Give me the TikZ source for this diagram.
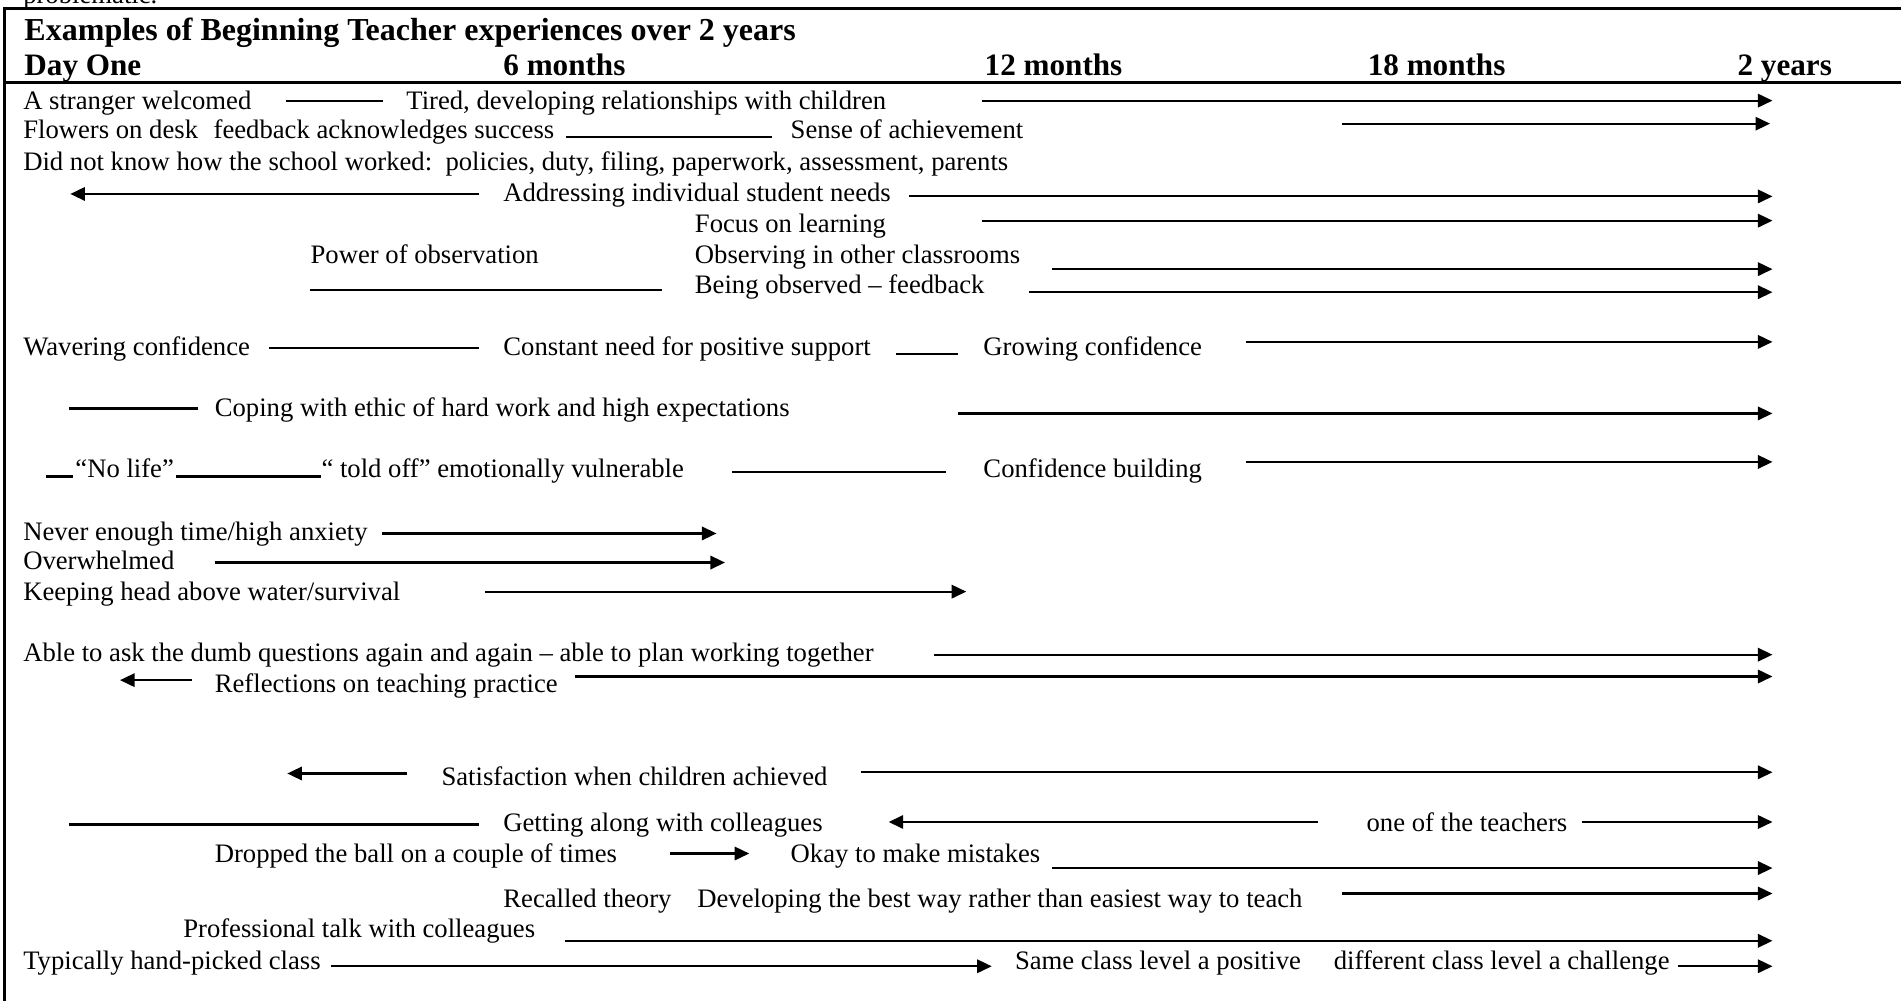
\documentclass[tikz,border=0pt]{standalone}
\usepackage{fontspec}
\setmainfont{Liberation Serif}
\usetikzlibrary{arrows.meta}
\tikzset{
  txt/.style={anchor=base west, inner sep=0pt, font=\fontsize{22}{26}\selectfont, yshift=-1.5pt},
  hdr/.style={anchor=base west, inner sep=0pt, font=\fontsize{25.7}{30}\selectfont\bfseries},
  ttl/.style={anchor=base west, inner sep=0pt, font=\fontsize{26.4}{30}\selectfont\bfseries},
  conn/.style={line width=1.8pt},
  arr/.style={conn, -{Triangle[length=12pt,width=11pt]}},
  frame/.style={line width=2.4pt}
}
\newcommand\hseg[5]{\coordinate (#1s) at (#3,#5); \coordinate (#1e) at (#4,#5); \draw[#2] (#1s) -- (#1e);}
\begin{document}
\begin{tikzpicture}[x=1pt,y=-1pt]
\useasboundingbox (0,0) rectangle (1568,826);
\fill[white] (0,0) rectangle (1568,826);
% clipped fragment of preceding text
\node[txt] (frag) at (19,1) {problematic.};
% frame
\coordinate (ftl) at (4,7); \coordinate (ftr) at (1568,7);
\coordinate (fhl) at (4,68); \coordinate (fhr) at (1568,68);
\coordinate (fbl) at (4,826);
\draw[frame] (ftr) -- (ftl) -- (fbl);
\draw[frame] (fhl) -- (fhr);
% header
\node[ttl] (title) at (20,33) {Examples of Beginning Teacher experiences over 2 years};
\node[hdr] (h0) at (20,62) {Day One};
\node[hdr] (h6) at (415,62) {6 months};
\node[hdr] (h12) at (812,62) {12 months};
\node[hdr] (h18) at (1128,62) {18 months};
\node[hdr] (h24) at (1433,62) {2 years};
% row 1
\node[txt] (r1a) at (19,89) {A stranger welcomed};
\hseg{l1a}{conn}{236}{316}{83}
\node[txt] (r1b) at (335,89) {Tired, developing relationships with children};
\hseg{a1}{arr}{810}{1462}{83}
% row 2
\node[txt] (r2a) at (19,113) {Flowers on desk};
\node[txt] (r2b) at (176,113) {feedback acknowledges success};
\hseg{l2a}{conn}{467}{637}{113}
\node[txt] (r2c) at (652,113) {Sense of achievement};
\hseg{a2}{arr}{1107}{1460}{102}
% row 3
\node[txt] (r3a) at (19,139) {Did not know how the school worked:\ \ policies, duty, filing, paperwork, assessment, parents};
% row 4
\hseg{a4a}{arr}{395}{58}{160}
\node[txt] (r4a) at (415,165) {Addressing individual student needs};
\hseg{a4b}{arr}{750}{1462}{162}
% row 5
\node[txt] (r5a) at (573,190) {Focus on learning};
\hseg{a5}{arr}{810}{1462}{182}
% row 6
\node[txt] (r6a) at (256,216) {Power of observation};
\node[txt] (r6b) at (573,216) {Observing in other classrooms};
\hseg{a6}{arr}{868}{1462}{222}
% row 7
\hseg{l7a}{conn}{256}{546}{239}
\node[txt] (r7a) at (573,241) {Being observed – feedback};
\hseg{a7}{arr}{849}{1462}{241}
% row 8
\node[txt] (r8a) at (19,292) {Wavering confidence};
\hseg{l8a}{conn}{222}{395}{287}
\node[txt] (r8b) at (415,292) {Constant need for positive support};
\hseg{l8b}{conn}{739}{790}{292}
\node[txt] (r8c) at (811,292) {Growing confidence};
\hseg{a8}{arr}{1028}{1462}{282}
% row 9
\hseg{l9a}{conn}{57}{163}{337}
\node[txt] (r9a) at (177,342) {Coping with ethic of hard work and high expectations};
\hseg{a9}{arr}{790}{1462}{341}
% row 10
\hseg{l10a}{conn}{38}{60}{393}
\node[txt] (r10a) at (62,392) {“No life”};
\hseg{l10b}{conn}{145}{265}{393}
\node[txt] (r10b) at (265,392) {“ told off” emotionally vulnerable};
\hseg{l10c}{conn}{604}{780}{389}
\node[txt] (r10c) at (811,392) {Confidence building};
\hseg{a10}{arr}{1028}{1462}{381}
% row 11-13
\node[txt] (r11a) at (19,444) {Never enough time/high anxiety};
\hseg{a11}{arr}{315}{591}{440}
\node[txt] (r12a) at (19,468) {Overwhelmed};
\hseg{a12}{arr}{177}{598}{464}
\node[txt] (r13a) at (19,494) {Keeping head above water/survival};
\hseg{a13}{arr}{400}{797}{488}
% row 14-15
\node[txt] (r14a) at (19,544) {Able to ask the dumb questions again and again – able to plan working together};
\hseg{a14}{arr}{770}{1462}{540}
\hseg{a15a}{arr}{158}{99}{561}
\node[txt] (r15a) at (177,570) {Reflections on teaching practice};
\hseg{a15b}{arr}{474}{1462}{558}
% row 16
\hseg{a16a}{arr}{336}{237}{638}
\node[txt] (r16a) at (364,646) {Satisfaction when children achieved};
\hseg{a16b}{arr}{710}{1462}{637}
% row 17
\hseg{l17a}{conn}{57}{395}{680}
\node[txt] (r17a) at (415,684) {Getting along with colleagues};
\hseg{a17a}{arr}{1087}{733}{678}
\node[txt] (r17b) at (1127,684) {one of the teachers};
\hseg{a17b}{arr}{1305}{1462}{678}
% row 18
\node[txt] (r18a) at (177,710) {Dropped the ball on a couple of times};
\hseg{a18a}{arr}{553}{618}{704}
\node[txt] (r18b) at (652,710) {Okay to make mistakes};
\hseg{a18b}{arr}{868}{1462}{716}
% row 19
\node[txt] (r19a) at (415,747) {Recalled theory};
\node[txt] (r19b) at (575,747) {Developing the best way rather than easiest way to teach};
\hseg{a19}{arr}{1107}{1462}{737}
% row 20
\node[txt] (r20a) at (151,772) {Professional talk with colleagues};
\hseg{a20}{arr}{466}{1462}{776}
% row 21
\node[txt] (r21a) at (19,798) {Typically hand-picked class};
\hseg{a21a}{arr}{273}{818}{797}
\node[txt] (r21b) at (837,798) {Same class level a positive};
\node[txt] (r21c) at (1100,798) {different class level a challenge};
\hseg{a21b}{arr}{1384}{1462}{797}
\end{tikzpicture}
\end{document}
